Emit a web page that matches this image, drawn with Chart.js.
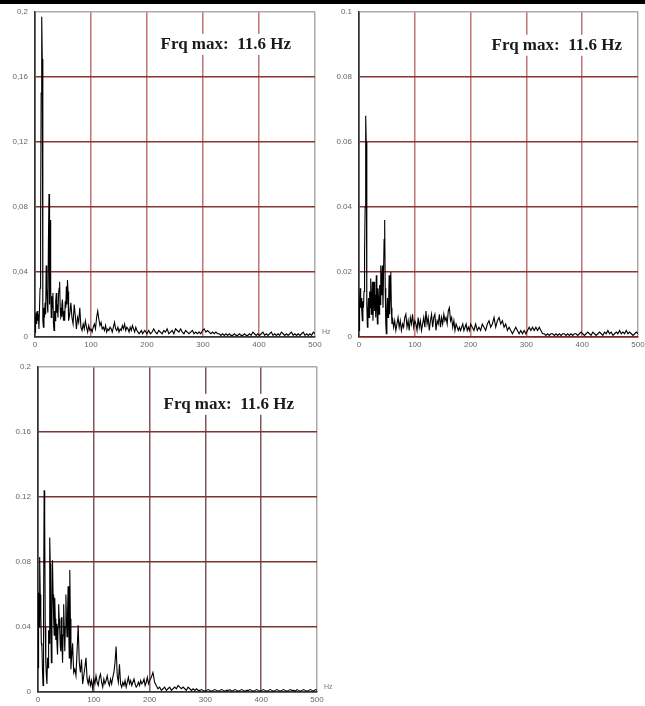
<!DOCTYPE html>
<html>
<head>
<meta charset="utf-8">
<script src="https://cdn.jsdelivr.net/npm/chart.js@4.4.1/dist/chart.umd.min.js"></script>
<style>
  html, body { margin: 0; padding: 0; width: 645px; height: 706px; overflow: hidden; background: #fff; }
  .topbar { position: absolute; left: 0; top: 0; width: 645px; height: 4px; background: #000; z-index: 2; }
  .panel { position: absolute; }
  #pA { left: 0; top: 0; width: 330px; height: 355px; }
  #pB { left: 330px; top: 0; width: 330px; height: 355px; }
  #pC { left: 0; top: 355px; width: 340px; height: 351px; }
</style>
</head>
<body>
<div class="topbar"></div>
<div class="panel" id="pA"><canvas id="specA"></canvas></div>
<div class="panel" id="pB"><canvas id="specB"></canvas></div>
<div class="panel" id="pC"><canvas id="specC"></canvas></div>
<script>
// ============================================================
// DATA
// ============================================================
const freqHz = [
  0, 1, 2, 3, 4, 5, 6, 7, 8, 9,
  10, 11, 12, 13, 14, 15, 16, 17, 18, 19,
  20, 21, 22, 23, 24, 25, 26, 27, 28, 29,
  30, 31, 32, 33, 34, 35, 36, 37, 38, 39,
  40, 41, 42, 43, 44, 45, 46, 47, 48, 49,
  50, 51, 52, 53, 54, 55, 56, 57, 58, 59,
  60,
  62, 64, 66, 68, 70, 72, 74, 76, 78, 80,
  82, 84, 86, 88, 90, 92, 94, 96, 98, 100,
  102, 104, 106, 108, 110, 112, 114, 116, 118, 120,
  122, 124, 126, 128, 130, 132, 134, 136, 138, 140,
  142, 144, 146, 148, 150, 152, 154, 156, 158, 160,
  162, 164, 166, 168, 170, 172, 174, 176, 178, 180,
  182, 184, 186, 188, 190, 192, 194, 196, 198, 200,
  203, 206, 209, 212, 215, 218, 221, 224, 227, 230,
  233, 236, 239, 242, 245, 248, 251, 254, 257, 260,
  263, 266, 269, 272, 275, 278, 281, 284, 287, 290,
  293, 296, 299, 302, 305, 308, 311, 314, 317, 320,
  323, 326, 329, 332, 335, 338, 341, 344, 347, 350,
  353, 356, 359, 362, 365, 368, 371, 374, 377, 380,
  383, 386, 389, 392, 395, 398, 401, 404, 407, 410,
  413, 416, 419, 422, 425, 428, 431, 434, 437, 440,
  443, 446, 449, 452, 455, 458, 461, 464, 467, 470,
  473, 476, 479, 482, 485, 488, 491, 494, 497, 500
];

// top left spectrum
const ampA = [
  0.003, 0.012, 0.015, 0.008, 0.016, 0.010, 0.014, 0.005, 0.017, 0.030,
  0.068, 0.150, 0.197, 0.171, 0.010, 0.006, 0.018, 0.012, 0.021, 0.014,
  0.044, 0.030, 0.020, 0.015, 0.060, 0.088, 0.020, 0.072, 0.030, 0.012,
  0.025, 0.018, 0.027, 0.008, 0.004, 0.016, 0.010, 0.022, 0.027, 0.015,
  0.020, 0.012, 0.026, 0.030, 0.034, 0.018, 0.012, 0.013, 0.020, 0.023,
  0.015, 0.010, 0.016, 0.010, 0.022, 0.018, 0.031, 0.020, 0.035, 0.028,
  0.010,
  0.014, 0.021, 0.012, 0.008, 0.020, 0.013, 0.005, 0.012, 0.009, 0.018,
  0.006, 0.004, 0.008, 0.005, 0.010, 0.006, 0.003, 0.007, 0.004, 0.005,
  0.003, 0.006, 0.008, 0.005, 0.012, 0.016, 0.011, 0.007, 0.009, 0.005,
  0.006, 0.004, 0.007, 0.003, 0.005, 0.004, 0.006, 0.005, 0.003, 0.006,
  0.009, 0.005, 0.004, 0.006, 0.003, 0.005, 0.004, 0.007, 0.005, 0.008,
  0.004, 0.006, 0.005, 0.003, 0.006, 0.004, 0.007, 0.005, 0.003, 0.006,
  0.004, 0.003, 0.002, 0.003, 0.004, 0.002, 0.003, 0.004, 0.003, 0.002,
  0.004, 0.002, 0.003, 0.005, 0.003, 0.002, 0.004, 0.003, 0.002, 0.004,
  0.003, 0.005, 0.002, 0.003, 0.004, 0.002, 0.005, 0.004, 0.003, 0.005,
  0.003, 0.002, 0.004, 0.003, 0.002, 0.003, 0.004, 0.002, 0.003, 0.002,
  0.003, 0.002, 0.004, 0.005, 0.003, 0.004, 0.003, 0.002, 0.003, 0.002,
  0.003, 0.002, 0.002, 0.001, 0.002, 0.001, 0.002, 0.001, 0.002, 0.001,
  0.001, 0.002, 0.001, 0.001, 0.002, 0.001, 0.001, 0.002, 0.001, 0.001,
  0.002, 0.001, 0.003, 0.002, 0.001, 0.002, 0.001, 0.002, 0.003, 0.001,
  0.002, 0.001, 0.002, 0.003, 0.001, 0.002, 0.001, 0.002, 0.001, 0.003,
  0.002, 0.001, 0.002, 0.001, 0.002, 0.003, 0.001, 0.002, 0.001, 0.002,
  0.001, 0.002, 0.003, 0.001, 0.002, 0.001, 0.002, 0.001, 0.003, 0.002
];

// top right spectrum
const ampB = [
  0.002, 0.010, 0.015, 0.009, 0.012, 0.008, 0.005, 0.011, 0.009, 0.014,
  0.026, 0.040, 0.068, 0.060, 0.010, 0.003, 0.008, 0.012, 0.006, 0.014,
  0.009, 0.018, 0.007, 0.011, 0.017, 0.005, 0.010, 0.017, 0.008, 0.013,
  0.006, 0.019, 0.010, 0.004, 0.015, 0.012, 0.007, 0.016, 0.010, 0.022,
  0.013, 0.018, 0.022, 0.009, 0.020, 0.030, 0.036, 0.015, 0.004, 0.001,
  0.008, 0.012, 0.006, 0.010, 0.019, 0.007, 0.014, 0.020, 0.009, 0.004,
  0.006,
  0.003, 0.005, 0.002, 0.004, 0.006, 0.003, 0.005, 0.002, 0.004, 0.003,
  0.006, 0.007, 0.003, 0.005, 0.002, 0.006, 0.004, 0.007, 0.003, 0.005,
  0.004, 0.002, 0.006, 0.003, 0.005, 0.002, 0.004, 0.006, 0.003, 0.008,
  0.004, 0.006, 0.002, 0.005, 0.007, 0.003, 0.006, 0.007, 0.002, 0.005,
  0.004, 0.007, 0.003, 0.006, 0.004, 0.007, 0.005, 0.006, 0.004, 0.008,
  0.009, 0.005, 0.006, 0.003, 0.005, 0.002, 0.004, 0.003, 0.002, 0.003,
  0.002, 0.003, 0.004, 0.002, 0.003, 0.004, 0.002, 0.003, 0.002, 0.004,
  0.003, 0.002, 0.004, 0.002, 0.003, 0.002, 0.004, 0.003, 0.002, 0.004,
  0.005, 0.003, 0.004, 0.006, 0.003, 0.005, 0.006, 0.004, 0.005, 0.003,
  0.004, 0.002, 0.003, 0.002, 0.001, 0.002, 0.003, 0.002, 0.001, 0.002,
  0.001, 0.002, 0.001, 0.002, 0.003, 0.002, 0.003, 0.002, 0.003, 0.002,
  0.003, 0.002, 0.001, 0.001, 0.0005, 0.001, 0.0005, 0.001, 0.001, 0.0005,
  0.001, 0.0005, 0.001, 0.0005, 0.001, 0.001, 0.0005, 0.001, 0.0005, 0.001,
  0.0005, 0.001, 0.001, 0.0005, 0.001, 0.0015, 0.001, 0.0005, 0.001, 0.0015,
  0.001, 0.0005, 0.0015, 0.001, 0.0005, 0.001, 0.0015, 0.001, 0.0005, 0.0015,
  0.001, 0.002, 0.001, 0.0015, 0.0005, 0.001, 0.0015, 0.001, 0.002, 0.001,
  0.0015, 0.001, 0.002, 0.001, 0.0015, 0.001, 0.0005, 0.001, 0.0015, 0.001
];

// bottom spectrum
const ampC = [
  0.015, 0.061, 0.040, 0.083, 0.060, 0.048, 0.030, 0.028, 0.014, 0.004,
  0.050, 0.124, 0.105, 0.040, 0.018, 0.010, 0.005, 0.021, 0.015, 0.038,
  0.030, 0.095, 0.079, 0.040, 0.018, 0.050, 0.081, 0.060, 0.046, 0.035,
  0.058, 0.045, 0.032, 0.042, 0.030, 0.023, 0.040, 0.054, 0.045, 0.038,
  0.028, 0.025, 0.046, 0.030, 0.018, 0.035, 0.054, 0.040, 0.025, 0.040,
  0.060, 0.045, 0.034, 0.050, 0.065, 0.040, 0.021, 0.075, 0.045, 0.014,
  0.020,
  0.030, 0.012, 0.014, 0.010, 0.025, 0.041, 0.018, 0.012, 0.020, 0.005,
  0.010, 0.015, 0.021, 0.008, 0.005, 0.009, 0.004, 0.007, 0.002, 0.008,
  0.005, 0.010, 0.006, 0.004, 0.009, 0.011, 0.006, 0.003, 0.008, 0.005,
  0.007, 0.010, 0.006, 0.004, 0.008, 0.005, 0.009, 0.012, 0.018, 0.028,
  0.010, 0.006, 0.017, 0.005, 0.003, 0.006, 0.004, 0.007, 0.003, 0.006,
  0.009, 0.005, 0.007, 0.004, 0.006, 0.008, 0.005, 0.003, 0.004, 0.006,
  0.004, 0.007, 0.005, 0.006, 0.008, 0.004, 0.006, 0.009, 0.005, 0.007,
  0.009, 0.012, 0.006, 0.004, 0.002, 0.003, 0.001, 0.002, 0.003, 0.001,
  0.002, 0.003, 0.001, 0.002, 0.003, 0.002, 0.004, 0.003, 0.002, 0.003,
  0.002, 0.001, 0.003, 0.002, 0.001, 0.002, 0.001, 0.002, 0.001, 0.001,
  0.0015, 0.001, 0.0005, 0.001, 0.0015, 0.001, 0.0005, 0.001, 0.0015, 0.001,
  0.0005, 0.001, 0.0015, 0.001, 0.0005, 0.001, 0.001, 0.0015, 0.0005, 0.001,
  0.0015, 0.001, 0.0005, 0.001, 0.0015, 0.001, 0.0005, 0.001, 0.001, 0.0015,
  0.001, 0.0005, 0.001, 0.0015, 0.001, 0.0005, 0.001, 0.0015, 0.001, 0.0005,
  0.001, 0.0015, 0.001, 0.0005, 0.001, 0.0015, 0.001, 0.0005, 0.001, 0.0015,
  0.001, 0.0005, 0.001, 0.0015, 0.001, 0.001, 0.0005, 0.0015, 0.001, 0.0005,
  0.001, 0.0015, 0.001, 0.0005, 0.001, 0.0015, 0.001, 0.0005, 0.0015, 0.001
];

const xTickLabels = ['0', '100', '200', '300', '400', '500'];
const yTicksA = ['0', '0,04', '0,08', '0,12', '0,16', '0,2'];
const yTicksB = ['0', '0.02', '0.04', '0.06', '0.08', '0.1'];
const yTicksC = ['0', '0.04', '0.08', '0.12', '0.16', '0.2'];
const peakLabel = 'Frq max:  11.6 Hz';

// ============================================================
// TEXT OVERLAY (peak label + Hz unit)
// ============================================================
const panelText = {
    id: 'panelText',
    afterDraw: function(chart, args, opts) {
        const ctx = chart.ctx;
        const a = chart.chartArea;
        ctx.save();
        ctx.font = 'bold 17px "Liberation Serif", "Times New Roman", serif';
        const w = ctx.measureText(opts.label).width;
        const xr = a.right - opts.dx;
        const yb = a.top + opts.dy;
        ctx.fillStyle = '#fff';
        ctx.fillRect(xr - w - 4, yb - 15, w + 8, 21);
        ctx.fillStyle = '#1a1a1a';
        ctx.textAlign = 'right';
        ctx.textBaseline = 'alphabetic';
        ctx.fillText(opts.label, xr, yb);

        ctx.font = '7px "Liberation Sans", Arial, sans-serif';
        ctx.fillStyle = '#777';
        ctx.textAlign = 'left';
        ctx.fillText('Hz', a.right + 7, a.bottom - 3);
        ctx.restore();
    }
};

function makeSpectrum(id, amps, cfg) {
    const points = freqHz.map((f, i) => ({ x: f, y: amps[i] }));
    return new Chart(document.getElementById(id), {
        type: 'line',
        data: {
            datasets: [{
                data: points,
                borderColor: '#000',
                borderWidth: 1.1,
                pointRadius: 0,
                tension: 0,
                fill: false
            }]
        },
        options: {
            responsive: true,
            maintainAspectRatio: false,
            animation: false,
            events: [],
            layout: { padding: { top: cfg.padTop, right: cfg.padRight, left: 0, bottom: 0 } },
            plugins: {
                legend: { display: false },
                tooltip: { enabled: false },
                panelText: { label: peakLabel, dx: cfg.textDx, dy: cfg.textDy }
            },
            scales: {
                x: {
                    type: 'linear',
                    min: 0,
                    max: 500,
                    afterFit: s => { s.height = cfg.xHeight; },
                    ticks: {
                        stepSize: 100,
                        autoSkip: false,
                        maxRotation: 0,
                        padding: 3,
                        color: '#666',
                        font: { family: '"Liberation Sans", Arial, sans-serif', size: 8 },
                        callback: (v, i) => xTickLabels[i]
                    },
                    grid: {
                        drawTicks: false,
                        lineWidth: 1.5,
                        color: c => c.index === 0 ? '#333' : (c.index === 5 ? '#aaa' : cfg.vGrid)
                    },
                    border: { color: cfg.axisColor, width: 1.5 }
                },
                y: {
                    min: 0,
                    max: cfg.yMax,
                    afterFit: s => { s.width = cfg.yWidth; },
                    ticks: {
                        stepSize: cfg.yMax / 5,
                        autoSkip: false,
                        padding: 7,
                        color: '#666',
                        font: { family: '"Liberation Sans", Arial, sans-serif', size: 8 },
                        callback: (v, i) => cfg.yLabels[i]
                    },
                    grid: {
                        drawTicks: false,
                        lineWidth: 1.5,
                        color: c => c.index === 0 ? cfg.axisColor : (c.index === 5 ? '#aaa' : cfg.hGrid)
                    },
                    border: { color: '#333', width: 1.5 }
                }
            }
        },
        plugins: [panelText]
    });
}

makeSpectrum('specA', ampA, {
    yMax: 0.2, yLabels: yTicksA, yWidth: 35, xHeight: 18, padTop: 10, padRight: 15,
    hGrid: '#8a3535', vGrid: '#c07575', axisColor: '#333', textDx: 24, textDy: 37
});
makeSpectrum('specB', ampB, {
    yMax: 0.1, yLabels: yTicksB, yWidth: 29, xHeight: 18, padTop: 10, padRight: 22,
    hGrid: '#8a3535', vGrid: '#c07575', axisColor: '#7a2424', textDx: 16, textDy: 38
});
makeSpectrum('specC', ampC, {
    yMax: 0.2, yLabels: yTicksC, yWidth: 38, xHeight: 14, padTop: 10, padRight: 23,
    hGrid: '#7a3535', vGrid: '#7d5858', axisColor: '#333', textDx: 23, textDy: 42
});
</script>
</body>
</html>
